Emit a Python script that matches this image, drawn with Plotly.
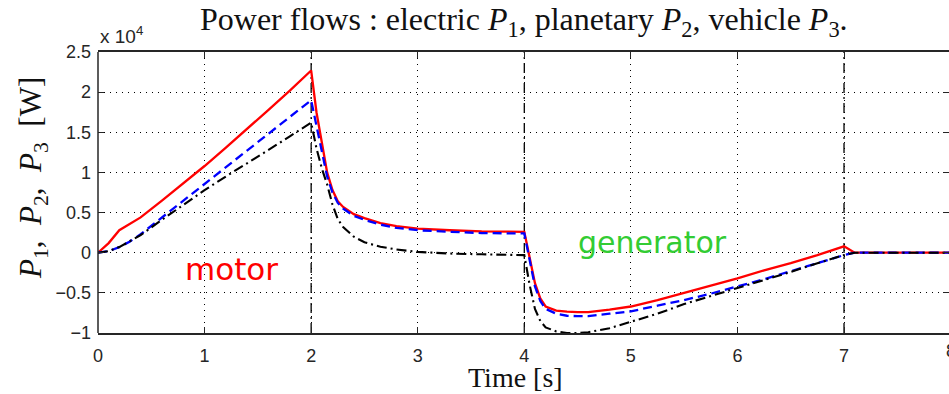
import plotly.graph_objects as go

# ---- data (values in units of 1e4 W) ----
time_s = [0, 0.1, 0.2, 0.3, 0.4, 0.6, 0.8, 1.0, 1.2, 1.4, 1.6, 1.8, 2.0,
          2.05, 2.1, 2.15, 2.2, 2.25, 2.3, 2.4, 2.5, 2.65, 2.8, 3.0, 3.3, 3.6, 4.0,
          4.05, 4.1, 4.15, 4.2, 4.3, 4.4, 4.5, 4.6, 4.8, 5.0, 5.25, 5.5, 5.75,
          6.0, 6.25, 6.5, 6.75, 7.0, 7.1, 7.5, 8.0]

p1_electric = [0, 0.12, 0.28, 0.36, 0.44, 0.65, 0.86, 1.08, 1.31, 1.54, 1.78, 2.02, 2.27,
               1.75, 1.35, 1.00, 0.78, 0.64, 0.57, 0.48, 0.43, 0.37, 0.33, 0.30, 0.28, 0.265, 0.26,
               -0.05, -0.38, -0.57, -0.67, -0.72, -0.735, -0.74, -0.74, -0.71, -0.67, -0.59, -0.50, -0.41,
               -0.32, -0.22, -0.13, -0.03, 0.08, 0.0, 0.0, 0.0]

p2_planetary = [0, 0.02, 0.07, 0.14, 0.23, 0.44, 0.65, 0.86, 1.07, 1.28, 1.48, 1.69, 1.90,
                1.58, 1.25, 0.95, 0.75, 0.62, 0.55, 0.46, 0.41, 0.35, 0.31, 0.28, 0.26, 0.245, 0.24,
                -0.08, -0.42, -0.60, -0.70, -0.76, -0.785, -0.79, -0.79, -0.76, -0.73, -0.66, -0.59, -0.51,
                -0.42, -0.33, -0.23, -0.13, -0.03, 0.0, 0.0, 0.0]

p3_vehicle = [0, 0.02, 0.07, 0.14, 0.22, 0.41, 0.60, 0.78, 0.95, 1.11, 1.28, 1.45, 1.62,
              1.30, 1.05, 0.85, 0.60, 0.42, 0.32, 0.20, 0.13, 0.075, 0.04, 0.01, -0.01, -0.02, -0.03,
              -0.40, -0.70, -0.85, -0.93, -0.98, -1.0, -1.0, -0.99, -0.94, -0.86, -0.76, -0.64, -0.54,
              -0.44, -0.34, -0.24, -0.13, -0.03, 0.0, 0.0, 0.0]

phase_bounds = [2, 4, 7]

x_ticks = [0, 1, 2, 3, 4, 5, 6, 7]
x_ticklabels = ["0", "1", "2", "3", "4", "5", "6", "7"]
y_ticks = [-1, -0.5, 0, 0.5, 1, 1.5, 2, 2.5]
y_ticklabels = ["\u22121", "\u22120.5", "0", "0.5", "1", "1.5", "2", "2.5"]

X_MAX = 7.985
Y_MIN, Y_MAX = -1, 2.5

fig = go.Figure()

# phase boundary lines (dash-dot)
for tb in phase_bounds:
    fig.add_trace(go.Scatter(x=[tb, tb], y=[Y_MIN, Y_MAX], mode="lines",
                             line=dict(color="black", width=1.3, dash="10px,4px,2px,4px"),
                             showlegend=False, hoverinfo="skip"))

fig.add_trace(go.Scatter(x=time_s, y=p1_electric, mode="lines",
                         line=dict(color="#ff0000", width=2.3), showlegend=False))
fig.add_trace(go.Scatter(x=time_s, y=p2_planetary, mode="lines",
                         line=dict(color="#0000ff", width=2.3, dash="9px,5px"), showlegend=False))
fig.add_trace(go.Scatter(x=time_s, y=p3_vehicle, mode="lines",
                         line=dict(color="black", width=2.1, dash="10px,4px,2px,4px"), showlegend=False))

tickfont = dict(family="Liberation Sans, Arial, sans-serif", size=18, color="#262626")
serif = "Liberation Serif, Times New Roman, serif"
NB = "\u00a0"

fig.update_xaxes(range=[0, X_MAX], tickvals=x_ticks, ticktext=x_ticklabels,
                 ticks="inside", ticklen=6, tickcolor="#262626", tickwidth=1.3,
                 showline=True, linecolor="#262626", linewidth=1.5, mirror="ticks",
                 showgrid=True, gridcolor="#000000", gridwidth=1.1, griddash="1px,5px",
                 zeroline=False, tickfont=tickfont, ticklabelstandoff=6)
fig.update_yaxes(range=[Y_MIN, Y_MAX], tickvals=y_ticks, ticktext=y_ticklabels,
                 ticks="inside", ticklen=6, tickcolor="#262626", tickwidth=1.3,
                 showline=False, mirror="ticks",
                 showgrid=True, gridcolor="#000000", gridwidth=1.1, griddash="1px,5px",
                 zeroline=False, tickfont=tickfont, ticklabelstandoff=6)

# left frame line
fig.add_shape(type="line", xref="paper", yref="paper", x0=0, x1=0, y0=0, y1=1,
              line=dict(color="#262626", width=1.5))

title_txt = ("Power flows : electric" + NB + "<i>P</i><sub>1</sub>," + NB + "planetary" + NB
             + "<i>P</i><sub>2</sub>," + NB + "vehicle" + NB + "<i>P</i><sub>3</sub>.")
ylab_txt = ("<i>P</i><sub>1</sub>," + NB * 2 + "<i>P</i><sub>2</sub>," + NB * 2
            + "<i>P</i><sub>3</sub>" + NB * 2 + "[W]")

annotations = [
    dict(text=title_txt, xref="paper", yref="paper", x=0.5, y=1, yshift=31,
         xanchor="center", yanchor="middle",
         showarrow=False, font=dict(family=serif, size=32, color="#111")),
    dict(text="Time [s]", xref="paper", yref="paper", x=(515 - 98) / 851, y=0, yshift=-44,
         xanchor="center", yanchor="middle", showarrow=False,
         font=dict(family=serif, size=28, color="#111")),
    dict(text=ylab_txt, xref="paper", yref="paper", x=(33 - 98) / 851, y=(333 - 178) / 281,
         textangle=-90, xanchor="center", yanchor="middle", showarrow=False,
         font=dict(family=serif, size=31, color="#111")),
    dict(text="x 10<sup>4</sup>", xref="paper", yref="paper", x=0, y=1, yshift=3,
         xanchor="left", yanchor="bottom", showarrow=False,
         font=dict(family="Liberation Sans, Arial, sans-serif", size=19, color="#262626")),
    dict(text="8", xref="paper", yref="paper", x=8 / X_MAX, y=0, yshift=-6,
         xanchor="center", yanchor="top", showarrow=False, font=tickfont),
    dict(text="motor", x=1.25, y=-0.2, xref="x", yref="y", showarrow=False,
         xanchor="center", yanchor="middle",
         font=dict(family="DejaVu Sans, Verdana, sans-serif", size=31, color="#ff0000")),
    dict(text="generator", x=5.2, y=0.13, xref="x", yref="y", showarrow=False,
         xanchor="center", yanchor="middle",
         font=dict(family="DejaVu Sans, Verdana, sans-serif", size=30, color="#33cc33")),
]

fig.update_layout(width=949, height=394, margin=dict(l=98, r=0, t=52, b=61),
                  paper_bgcolor="white", plot_bgcolor="white",
                  annotations=annotations, showlegend=False)

fig.write_html("out.html", config={"displayModeBar": False},
               post_script="document.body.style.margin='0px';")
